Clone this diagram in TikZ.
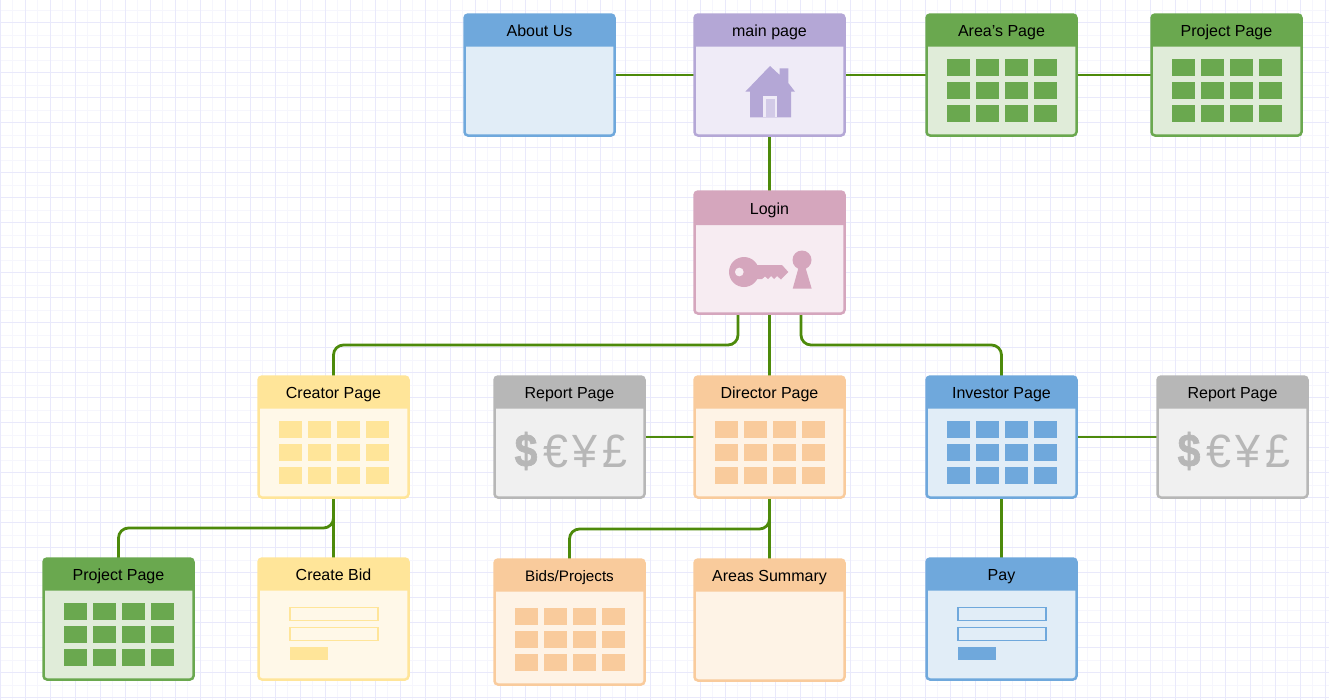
\documentclass[tikz,border=0pt]{standalone}
\usepackage{fontspec}
\setmainfont{Liberation Sans}
\newfontfamily\heavymoney[FakeBold=1.5]{Liberation Sans Bold}
\newdimen\pxu \pxu=0.75pt
\pgfdeclarelayer{gridlayer}
\pgfdeclarelayer{wirelayer}
\pgfsetlayers{gridlayer,wirelayer,main}
\definecolor{wire}{HTML}{4D8A0B}
\definecolor{gmaj}{HTML}{E9E9FB}
\definecolor{gmin}{HTML}{F6F6FD}
\definecolor{blueH}{HTML}{6FA8DC}\definecolor{blueB}{HTML}{E1EDF7}
\definecolor{purpH}{HTML}{B4A7D6}\definecolor{purpB}{HTML}{EFEBF7}
\definecolor{grenH}{HTML}{6AA84F}\definecolor{grenB}{HTML}{E0ECD9}
\definecolor{pinkH}{HTML}{D5A6BD}\definecolor{pinkB}{HTML}{F7ECF2}
\definecolor{yellH}{HTML}{FFE599}\definecolor{yellB}{HTML}{FFF8E8}
\definecolor{oranH}{HTML}{F9CB9C}\definecolor{oranB}{HTML}{FEF3E6}
\definecolor{grayH}{HTML}{B7B7B7}\definecolor{grayB}{HTML}{F0F0F0}
\tikzset{
  pagebox/.style={draw,rounded corners=3.5\pxu,line width=2.5\pxu,inner sep=0pt,outer sep=0pt,minimum width=150\pxu},
  pagetitle/.style={inner sep=0pt,anchor=base,text=black,font=\fontsize{12}{14}\selectfont},
  conn/.style={draw=wire,line width=2.8\pxu},
  bendconn/.style={conn,rounded corners=10\pxu},
  money/.style={inner sep=0pt,text=grayH,transform shape,xscale=0.96,font=\fontsize{35}{40}\selectfont},
  moneybold/.style={money,xscale=0.88/0.96,font=\fontsize{35}{40}\heavymoney},
}
% [header height] name, left, top, height, title, colour prefix
\newcommand\pagebox[7][32]{%
  \node[pagebox,draw=#7H,fill=#7B,minimum height=#5\pxu,anchor=north west] (#2) at (#3,#4) {};
  \fill[#7H] (#3,#4+#1) -- (#3,#4+3.5) arc[start angle=180,end angle=270,radius=3.5] -- (#3+146.5,#4) arc[start angle=270,end angle=360,radius=3.5] -- (#3+150,#4+#1) -- cycle;
  \node[pagetitle] (#2-title) at (#3+75,#4+#1-10.5) {#6};
}
\newcommand\cellgrid[3]{%
  \foreach \cx in {0,1,2,3}\foreach \cy in {0,1,2}
    \fill[#3] (#1+21+29*\cx,#2+45+23*\cy) rectangle ++(23,17);
}
\newcommand\formicon[3]{%
  \draw[#3,line width=1.2\pxu] (#1+32,#2+49.5) rectangle ++(88,13);
  \draw[#3,line width=1.2\pxu] (#1+32,#2+69.5) rectangle ++(88,13);
  \fill[#3] (#1+32,#2+89) rectangle ++(38,13);
}
\newcommand\moneyicon[3]{%
  \node[moneybold] (#3-a) at (#1+32,#2+75) {\$};
  \node[money] (#3-b) at (#1+61.5,#2+75) {€};
  \node[money] (#3-c) at (#1+91,#2+75) {¥};
  \node[money] (#3-d) at (#1+120.5,#2+75) {£};
}
\begin{document}
\begin{tikzpicture}[x=0.75pt,y=-0.75pt]
\useasboundingbox (0,0) rectangle (1329,700);
\begin{pgfonlayer}{gridlayer}
\fill[white] (0,0) rectangle (1329,700);
\foreach \i in {0,...,53} \draw[gmin,line width=1\pxu] (12.5+25*\i,0) -- (12.5+25*\i,700);
\foreach \i in {0,...,27} \draw[gmin,line width=1\pxu] (0,10+25*\i) -- (1329,10+25*\i);
\foreach \i in {0,...,53} \draw[gmaj,line width=1\pxu] (0.5+25*\i,0) -- (0.5+25*\i,700);
\foreach \i in {0,...,27} \draw[gmaj,line width=1\pxu] (0,22.5+25*\i) -- (1329,22.5+25*\i);
\end{pgfonlayer}
% pages
\pagebox{about}{464.5}{14.5}{121}{About Us}{blue}
\pagebox{main}{694.5}{14.5}{121}{main page}{purp}
\pagebox{areas}{926.5}{14.5}{121}{Area's Page}{gren}
\pagebox{project}{1151.5}{14.5}{121}{Project Page}{gren}
\pagebox[33.5]{login}{694.5}{191.5}{122}{Login}{pink}
\pagebox{creator}{258.5}{376.5}{121}{Creator Page}{yell}
\pagebox{report}{494.5}{376.5}{121}{Report Page}{gray}
\pagebox{director}{694.5}{376.5}{121}{Director Page}{oran}
\pagebox{investor}{926.5}{376.5}{121}{Investor Page}{blue}
\pagebox{reportb}{1157.5}{376.5}{121}{Report Page}{gray}
\pagebox{projectb}{43.5}{558.5}{121}{Project Page}{gren}
\pagebox{bid}{258.5}{558.5}{121}{Create Bid}{yell}
\pagebox{bids}{494.5}{559.5}{125}{}{oran}
\node[pagetitle,font=\fontsize{11.4}{13}\selectfont] (bids-label) at (569.5,581.5) {Bids/Projects};
\pagebox{summary}{694.5}{559.5}{121}{Areas Summary}{oran}
\pagebox{pay}{926.5}{558.5}{121}{Pay}{blue}
% icons
\cellgrid{926}{14}{grenH}
\cellgrid{1151}{14}{grenH}
\cellgrid{258}{376}{yellH}
\cellgrid{694}{376}{oranH}
\cellgrid{926}{376}{blueH}
\cellgrid{43}{558}{grenH}
\cellgrid{494}{563}{oranH}
\formicon{258}{558}{yellH}
\formicon{926}{558}{blueH}
\moneyicon{494}{376}{ma}
\moneyicon{1157}{376}{mb}
% house
\fill[purpH] (770,66) -- (779.7,75) -- (779.7,68.3) -- (788.3,68.3) -- (788.3,83) -- (795,91.7) -- (791,91.7) -- (791,117.3) -- (750,117.3) -- (750,91.7) -- (745.3,91.7) -- cycle;
\fill[purpB] (763.3,96) rectangle (777.3,117.3);
\fill[purpH!60!white] (766,98.7) rectangle (775,117.3);
% key
\fill[pinkH,even odd rule] (744,272) circle[radius=15] (739.3,272) circle[radius=4.5];
\fill[pinkH] (755,265) -- (782,265) -- (788.3,272) -- (781,279.5) -- (777,276) -- (774,279) -- (771,276) -- (768,279) -- (765,276.5) -- (762,279) -- (755,279) -- cycle;
% keyhole
\fill[pinkH] (802,260) circle[radius=9.5];
\fill[pinkH] (799.3,265) -- (804.7,265) -- (811.7,288.7) -- (792.7,288.7) -- cycle;
% connectors
\begin{pgfonlayer}{wirelayer}
\draw[conn] (about) -- (main);
\draw[conn] (main) -- (areas);
\draw[conn] (areas) -- (project);
\draw[conn] (main) -- (login);
\draw[conn] (login) -- (director);
\draw[bendconn] ([xshift=-31.5\pxu]login.south) -- ++(0,31.5) -| (creator.north);
\draw[bendconn] ([xshift=31.5\pxu]login.south) -- ++(0,31.5) -| (investor.north);
\draw[conn] (report) -- (director);
\draw[conn] (investor) -- (reportb);
\draw[conn] (creator) -- (bid);
\draw[bendconn] (creator.south) -- ++(0,30.5) -| (projectb.north);
\draw[conn] (director) -- (summary);
\draw[bendconn] (director.south) -- ++(0,31.5) -| (bids.north);
\draw[conn] (investor) -- (pay);
\end{pgfonlayer}
\end{tikzpicture}
\end{document}
